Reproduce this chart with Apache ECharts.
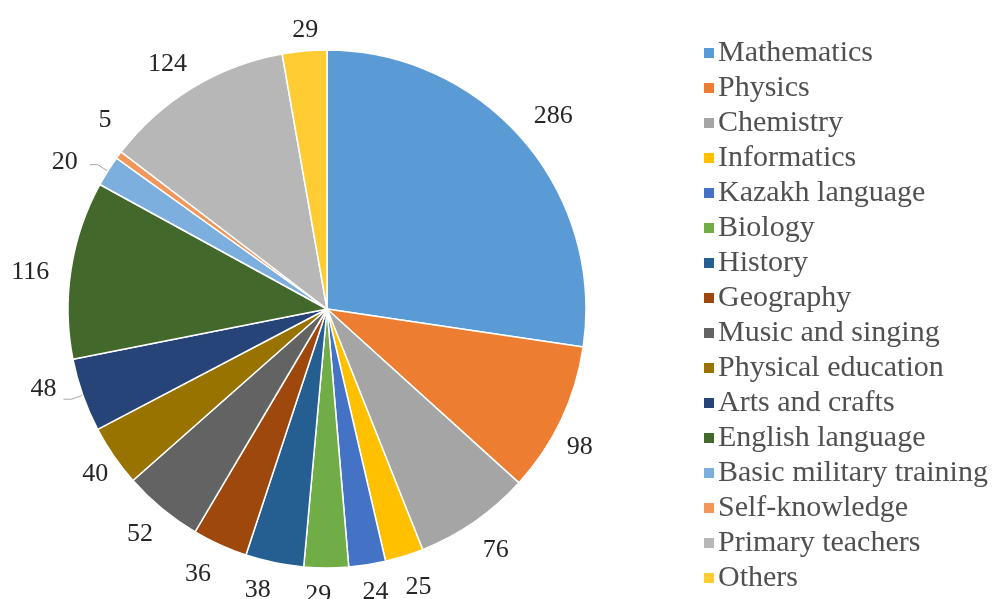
<!DOCTYPE html>
<html>
<head>
<meta charset="utf-8">
<script src="https://cdn.jsdelivr.net/npm/echarts@6/dist/echarts.min.js"></script>
<style>
  html, body { margin: 0; padding: 0; background: #fff; }
  #chart { width: 1008px; height: 599px; }
</style>
</head>
<body>
<div id="chart"></div>
<script>
const subjects = [
    "Mathematics", "Physics", "Chemistry", "Informatics", "Kazakh language",
    "Biology", "History", "Geography", "Music and singing", "Physical education",
    "Arts and crafts", "English language", "Basic military training",
    "Self-knowledge", "Primary teachers", "Others"
];
const teachers = [286, 98, 76, 25, 24, 29, 38, 36, 52, 40, 48, 116, 20, 5, 124, 29];
const sliceColors = [
    "#5b9bd5", "#ed7d31", "#a5a5a5", "#ffc000", "#4472c4", "#70ad47",
    "#255e91", "#9e480e", "#636363", "#997300", "#264478", "#43682b",
    "#7cafdd", "#f1975a", "#b7b7b7", "#ffcd33"
];
// slices whose label gets a leader line
const withLeader = ["Basic military training", "Arts and crafts"];
// small label nudges [dx, dy] so labels sit like the Excel original
const labelNudge = [
    [-5, -15], [-12, 22], [-5, 17], [-8, 18], [-12, 13], [10, 13], [4, 14], [2, 17],
    [5, 15], [11, 10], [-2, -10], [-3, 5], [-7, -2], [9, -27], [7, -12], [20, -7]
];

const chart = echarts.init(document.getElementById("chart"));

const pieData = subjects.map((name, i) => ({
    name: name,
    value: teachers[i],
    itemStyle: { color: sliceColors[i] },
    labelLine: withLeader.includes(name)
        ? { show: true, length: 12, length2: 8 }
        : { show: false },
}));

chart.setOption({
    animation: false,
    legend: {
        orient: "vertical",
        left: 697,
        top: 33,
        height: 580,
        itemWidth: 12,
        itemHeight: 12,
        itemGap: 5,
        icon: "rect",
        textStyle: {
            fontFamily: "Liberation Serif",
            fontSize: 30,
            color: "#505050",
            padding: [0, 0, 0, -2],
        },
        data: subjects,
    },
    series: [
        {
            type: "pie",
            center: [327, 309],
            radius: [0, 259],
            startAngle: 90,
            clockwise: true,
            avoidLabelOverlap: false,
            labelLayout: (params) => ({
                dx: labelNudge[params.dataIndex][0],
                dy: labelNudge[params.dataIndex][1],
                hideOverlap: false,
            }),
            itemStyle: { borderColor: "#fff", borderWidth: 1.5 },
            label: {
                show: true,
                position: "outside",
                formatter: "{c}",
                fontFamily: "Liberation Serif",
                fontSize: 26,
                color: "#262626",
            },
            labelLine: {
                length: 14,
                length2: 0,
                lineStyle: { color: "#a6a6a6", width: 1 },
            },
            data: pieData,
        },
    ],
});
</script>
</body>
</html>
